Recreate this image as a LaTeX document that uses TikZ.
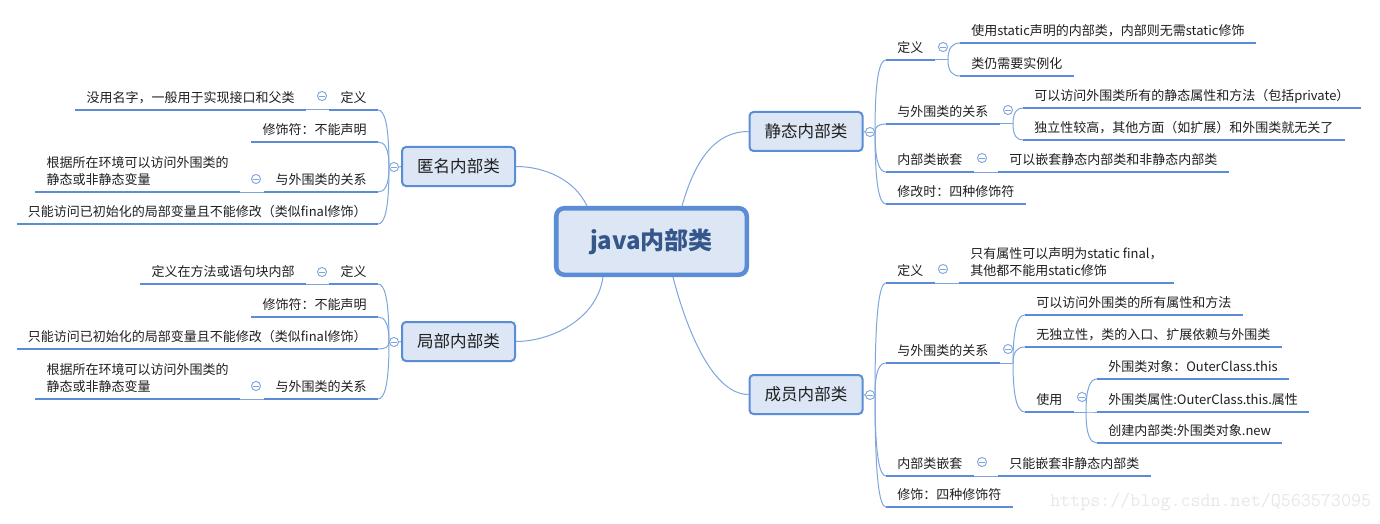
\documentclass[tikz,border=0pt]{standalone}
\usepackage{fontspec}
\setmainfont{Noto Sans CJK SC}
\usetikzlibrary{calc}
\definecolor{lineblue}{HTML}{5B8DD6}
\definecolor{thinblue}{HTML}{7EA6DE}
\definecolor{boxfill}{HTML}{DCE6F4}
\definecolor{titleblue}{HTML}{34568B}
\definecolor{txt}{HTML}{1F1F1F}
\definecolor{wm}{HTML}{E8E8E8}
\newcommand\mytwolines[2]{\vbox{\baselineskip=13pt\hbox{#1}\hbox{#2}}}
\tikzset{
  root/.style={draw=lineblue, line width=3.4pt, fill=boxfill, rounded corners=6pt,
    minimum width=142.9pt, minimum height=49.9pt, inner sep=0pt,
    font=\fontsize{18}{20}\selectfont\bfseries, text=titleblue},
  major/.style={draw=lineblue, line width=1.5pt, fill=boxfill, rounded corners=3pt,
    minimum width=84.75pt, minimum height=29.25pt, inner sep=0pt,
    font=\fontsize{12.4}{14}\selectfont, text=txt},
  uline/.style={draw=lineblue, line width=2pt},
  topic/.style={inner xsep=8.25pt, inner ysep=0pt, text depth=5.25pt,
    font=\fontsize{9.75}{13}\selectfont, text=txt,
    append after command={(\tikzlastnode.south west) edge[uline] (\tikzlastnode.south east)}},
  tr/.style={topic, anchor=south west},
  tl/.style={topic, anchor=south east},
  conn/.style={draw=thinblue, line width=0.75pt},
  fan/.style={to path={let \p1=(\tikztostart),\p2=(\tikztotarget) in
    .. controls (\x1,{\y1+0.75*(\y2-(\y1))}) and ({\x2+0.6*(\x1-(\x2))},\y2) .. (\tikztotarget)}},
  collapse/.style={circle, draw=thinblue, fill=white, line width=0.7pt, minimum size=6.8pt, inner sep=0pt,
    path picture={\draw[thinblue, line width=0.6pt] ([xshift=-1.9pt]path picture bounding box.center) -- ([xshift=1.9pt]path picture bounding box.center);}},
}
\begin{document}
\begin{tikzpicture}[x=0.75pt, y=-0.75pt]
\fill[white] (0,0) rectangle (1380,524);
\useasboundingbox (0,0) rectangle (1380,524);

% central and main boxes
\node[root] (C) at (651.5,241.5) {java内部类};
\node[major] (S) at (806,131.5) {静态内部类};
\node[major] (M) at (806,394.5) {成员内部类};
\node[major] (A) at (458.5,166.5) {匿名内部类};
\node[major] (L) at (458.5,341.5) {局部内部类};

\node[collapse] (cS) at (870,132) {};
\node[collapse] (cM) at (870,395) {};
\node[collapse] (cA) at (394,167) {};
\node[collapse] (cL) at (394,342) {};

% static inner class
\node[tr] (S1) at (886,60) {定义};
\node[collapse] (cS1) at (943,47) {};
\coordinate (jS1) at (948,60);
\node[tr] (S1a) at (960,43) {使用static声明的内部类，内部则无需static修饰};
\node[tr] (S1b) at (960,76) {类仍需要实例化};
\node[tr] (S2) at (886,124) {与外围类的关系};
\node[collapse] (cS2) at (1008,110) {};
\coordinate (jS2) at (1013,124);
\node[tr] (S2a) at (1023,108) {可以访问外围类所有的静态属性和方法（包括private）};
\node[tr] (S2b) at (1023,140) {独立性较高，其他方面（如扩展）和外围类就无关了};
\node[tr] (S3) at (886,172) {内部类嵌套};
\node[collapse] (cS3) at (982,158) {};
\node[tr] (S3a) at (998,172) {可以嵌套静态内部类和非静态内部类};
\node[tr] (S4) at (886,204) {修改时：四种修饰符};

% member inner class
\node[tr] (M1) at (886,283) {定义};
\node[collapse] (cM1) at (943,269) {};
\node[tr] (M1a) at (959,283) {\mytwolines{只有属性可以声明为static final，}{其他都不能用static修饰}};
\node[tr] (M2) at (886,363) {与外围类的关系};
\node[collapse] (cM2) at (1008,349) {};
\coordinate (jM2) at (1013,363);
\node[tr] (M2a) at (1025,315) {可以访问外围类的所有属性和方法};
\node[tr] (M2b) at (1025,347) {无独立性，类的入口、扩展依赖与外围类};
\node[tr] (M2c) at (1025,412) {使用};
\node[collapse] (cM2c) at (1082,397) {};
\coordinate (jM2c) at (1086,412);
\node[tr] (M2c1) at (1097,379) {外围类对象：OuterClass.this};
\node[tr] (M2c2) at (1097,412) {外围类属性:OuterClass.this.属性};
\node[tr] (M2c3) at (1097,443) {创建内部类:外围类对象.new};
\node[tr] (M3) at (886,476) {内部类嵌套};
\node[collapse] (cM3) at (982,462) {};
\node[tr] (M3a) at (998,476) {只能嵌套非静态内部类};
\node[tr] (M4) at (886,507) {修饰：四种修饰符};

% anonymous inner class
\node[tl] (A1) at (378,110) {定义};
\node[collapse] (cA1) at (322,96) {};
\node[tl] (A1a) at (306,110) {没用名字，一般用于实现接口和父类};
\node[tl] (A2) at (378,142) {修饰符：不能声明};
\node[tl] (A3) at (378,192) {与外围类的关系};
\node[collapse] (cA3) at (256,179) {};
\node[tl] (A3a) at (240,192) {\mytwolines{根据所在环境可以访问外围类的}{静态或非静态变量}};
\node[tl] (A4) at (378,224) {只能访问已初始化的局部变量且不能修改（类似final修饰）};

% local inner class
\node[tl] (L1) at (378,284) {定义};
\node[collapse] (cL1) at (322,272) {};
\node[tl] (L1a) at (306,284) {定义在方法或语句块内部};
\node[tl] (L2) at (378,317) {修饰符：不能声明};
\node[tl] (L3) at (378,349) {只能访问已初始化的局部变量且不能修改（类似final修饰）};
\node[tl] (L4) at (378,399) {与外围类的关系};
\node[collapse] (cL4) at (256,386) {};
\node[tl] (L4a) at (240,399) {\mytwolines{根据所在环境可以访问外围类的}{静态或非静态变量}};

% connectors from root
\draw[conn] ([xshift=22.9pt]C.north) .. controls (695,160) and (715,131.5) .. (S.west);
\draw[conn] ([xshift=16.1pt]C.south) .. controls (684,320) and (710,394.5) .. (M.west);
\draw[conn] ([xshift=-48.4pt]C.north) .. controls (575,180) and (545,166.5) .. (A.east);
\draw[conn] ([xshift=-36.4pt]C.south) .. controls (597,320) and (550,341.5) .. (L.east);

% box to collapse buttons
\draw[conn] (S.east) -- (cS.west);
\draw[conn] (M.east) -- (cM.west);
\draw[conn] (A.west) -- (cA.east);
\draw[conn] (L.west) -- (cL.east);

% static fan
\draw[conn] (cS.east) to[fan] (S1.south west);
\draw[conn] (cS.east) to[fan] (S2.south west);
\draw[conn] (cS.east) to[fan] (S3.south west);
\draw[conn] (cS.east) to[fan] (S4.south west);
\draw[conn] (S1.south east) -- (jS1);
\draw[conn] (jS1) to[fan] (S1a.south west);
\draw[conn] (jS1) to[fan] (S1b.south west);
\draw[conn] (S2.south east) -- (jS2);
\draw[conn] (jS2) to[fan] (S2a.south west);
\draw[conn] (jS2) to[fan] (S2b.south west);
\draw[conn] (S3.south east) -- (S3a.south west);

% member fan
\draw[conn] (cM.east) to[fan] (M1.south west);
\draw[conn] (cM.east) to[fan] (M2.south west);
\draw[conn] (cM.east) to[fan] (M3.south west);
\draw[conn] (cM.east) to[fan] (M4.south west);
\draw[conn] (M1.south east) -- (M1a.south west);
\draw[conn] (M2.south east) -- (jM2);
\draw[conn] (jM2) to[fan] (M2a.south west);
\draw[conn] (jM2) to[fan] (M2b.south west);
\draw[conn] (jM2) to[fan] (M2c.south west);
\draw[conn] (M2c.south east) -- (jM2c);
\draw[conn] (jM2c) to[fan] (M2c1.south west);
\draw[conn] (jM2c) to[fan] (M2c2.south west);
\draw[conn] (jM2c) to[fan] (M2c3.south west);
\draw[conn] (M3.south east) -- (M3a.south west);

% anonymous fan
\draw[conn] (cA.west) to[fan] (A1.south east);
\draw[conn] (cA.west) to[fan] (A2.south east);
\draw[conn] (cA.west) to[fan] (A3.south east);
\draw[conn] (cA.west) to[fan] (A4.south east);
\draw[conn] (A1.south west) -- (A1a.south east);
\draw[conn] (A3.south west) -- (A3a.south east);

% local fan
\draw[conn] (cL.west) to[fan] (L1.south east);
\draw[conn] (cL.west) to[fan] (L2.south east);
\draw[conn] (cL.west) to[fan] (L3.south east);
\draw[conn] (cL.west) to[fan] (L4.south east);
\draw[conn] (L1.south west) -- (L1a.south east);
\draw[conn] (L4.south west) -- (L4a.south east);

% watermark
\node[font=\fontsize{14.6}{16}\ttfamily, text=wm, anchor=west, inner sep=0pt] (wm) at (1050,502) {https://blog.csdn.net/Q563573095};
\end{tikzpicture}
\end{document}
